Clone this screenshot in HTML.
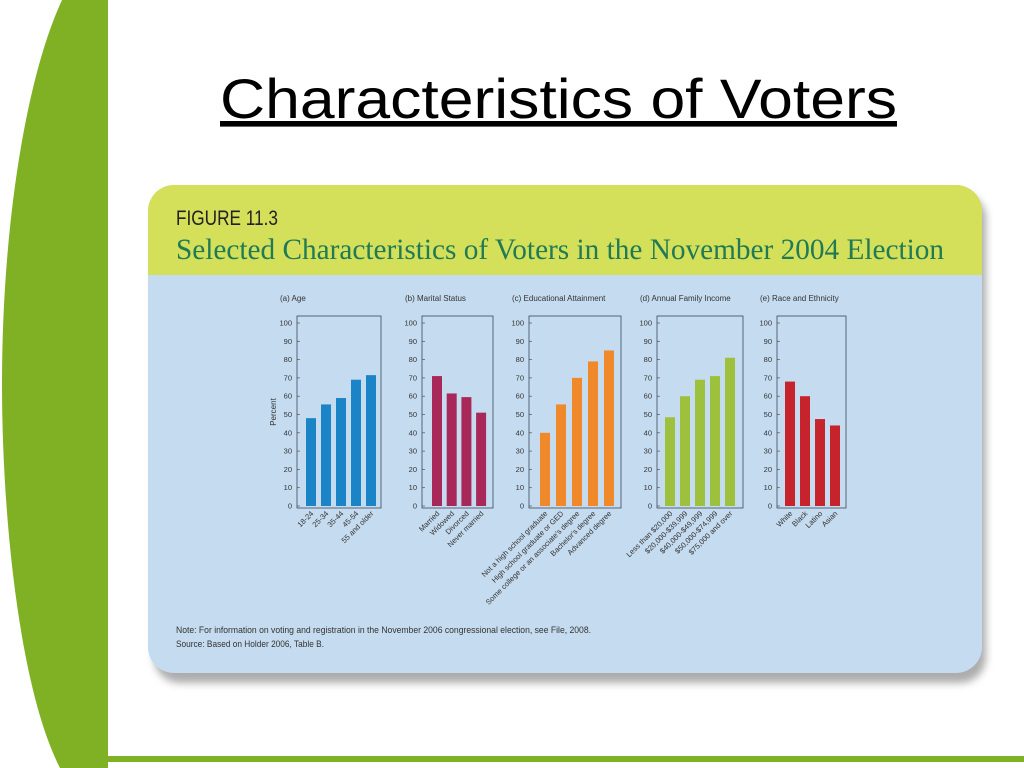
<!DOCTYPE html>
<html><head><meta charset="utf-8"><style>
html,body{margin:0;padding:0;background:#fff;width:1024px;height:768px;overflow:hidden;}
svg{display:block;}
</style></head><body>
<svg width="1024" height="768" viewBox="0 0 1024 768" font-family="Liberation Sans, sans-serif">
<defs>
<filter id="sh" x="-5%" y="-5%" width="112%" height="115%"><feGaussianBlur stdDeviation="4"/></filter>
</defs>
<path d="M62 0 L108 0 L108 768 L60 768 C20 690 2 520 2 384 C2 230 25 80 62 0 Z" fill="#80b125"/>
<rect x="108" y="756" width="916" height="6" fill="#80b125"/>
<text x="220" y="118" font-size="56" fill="#000" text-decoration="underline" textLength="677" lengthAdjust="spacingAndGlyphs">Characteristics of Voters</text>
<rect x="154" y="193" width="832" height="490" rx="26" fill="#8a8a8a" opacity="0.7" filter="url(#sh)"/>
<g>
<rect x="148" y="185" width="834" height="488" rx="26" fill="#c5dbef"/>
<path d="M174 185 H956 A26 26 0 0 1 982 211 V275 H148 V211 A26 26 0 0 1 174 185 Z" fill="#d4e05a"/>
</g>
<text x="176" y="225" font-size="21" fill="#222" textLength="102" lengthAdjust="spacingAndGlyphs">FIGURE 11.3</text>
<text x="176" y="259" font-size="30" font-family="Liberation Serif, serif" fill="#1f7a55" textLength="768" lengthAdjust="spacingAndGlyphs">Selected Characteristics of Voters in the November 2004 Election</text>
<text x="176" y="633" font-size="9.5" fill="#333" textLength="415" lengthAdjust="spacingAndGlyphs">Note: For information on voting and registration in the November 2006 congressional election, see File, 2008.</text>
<text x="176" y="647" font-size="9.5" fill="#333" textLength="148" lengthAdjust="spacingAndGlyphs">Source: Based on Holder 2006, Table B.</text>
<text transform="translate(276,412) rotate(-90)" font-size="8" text-anchor="middle" fill="#333">Percent</text>
<g id="charts"></g>
</svg>
<script>
const ageCats=["18-24","25-34","35-44","45-54","55 and older"];
const ageVals=[48,55.5,59,69,71.5];
const maritalCats=["Married","Widowed","Divorced","Never married"];
const maritalVals=[71,61.5,59.5,51];
const eduCats=["Not a high school graduate","High school graduate or GED","Some college or an associate's degree","Bachelor's degree","Advanced degree"];
const eduVals=[40,55.5,70,79,85];
const incomeCats=["Less than $20,000","$20,000-$39,999","$40,000-$49,999","$50,000-$74,999","$75,000 and over"];
const incomeVals=[48.5,60,69,71,81];
const raceCats=["White","Black","Latino","Asian"];
const raceVals=[68,60,47.5,44];
const tickVals=[0,10,20,30,40,50,60,70,80,90,100];
const titles=["(a)  Age","(b)  Marital Status","(c)  Educational Attainment","(d)  Annual Family Income","(e)  Race and Ethnicity"];

const NS="http://www.w3.org/2000/svg";
const root=document.getElementById('charts');
const yBase=506,yTop100=323,plotTop=316;
function yScale(v){return yBase-(yBase-yTop100)*v/100;}
function mk(tag,attrs,parent){const e=document.createElementNS(NS,tag);for(const k in attrs)e.setAttribute(k,attrs[k]);parent.appendChild(e);return e;}
const panels=[
 {name:"age",cats:ageCats,vals:ageVals,x0:297,x1:381,first:311,step:15,color:"#1a84c6"},
 {name:"marital",cats:maritalCats,vals:maritalVals,x0:422,x1:493,first:437,step:14.7,color:"#a82859"},
 {name:"education",cats:eduCats,vals:eduVals,x0:529,x1:621,first:545,step:16,color:"#f0892a"},
 {name:"income",cats:incomeCats,vals:incomeVals,x0:657,x1:743,first:670,step:15,color:"#9dc13c"},
 {name:"race",cats:raceCats,vals:raceVals,x0:777,x1:846,first:790,step:15,color:"#c7232d"}
];
panels.forEach((p,pi)=>{
 const g=mk('g',{},root);
 
 
 const t=mk('text',{x:p.x0-17,y:301,'font-size':8,fill:'#333'},g);
 
 
 t.textContent=titles[pi];
 tickVals.forEach(v=>{
  const y=yScale(v);
  const tl=mk('text',{x:p.x0-5,y:y+2.5,'font-size':7.5,'text-anchor':'end',fill:'#333'},g);
  
  
  tl.textContent=v;
  const tk=mk('line',{x1:p.x0,x2:p.x0+3,y1:y,y2:y,stroke:'#555','stroke-width':0.7},g);
  
  
 });
 p.vals.forEach((v,i)=>{
  const cx=p.first+i*p.step;
  const b=mk('rect',{x:cx-5,y:yScale(v),width:10,height:yBase-yScale(v),fill:p.color},g);
  
  
  const l=mk('text',{transform:'translate('+(cx+3)+','+(yBase+8)+') rotate(-45)','font-size':7.5,'text-anchor':'end',fill:'#333'},g);
  
  
  l.textContent=p.cats[i];
 });
 const box=mk('rect',{x:p.x0,y:plotTop,width:p.x1-p.x0,height:yBase-plotTop+2,fill:'none',stroke:'#3a4a5a','stroke-width':0.8},g);
 
 
});
</script>
</body></html>
